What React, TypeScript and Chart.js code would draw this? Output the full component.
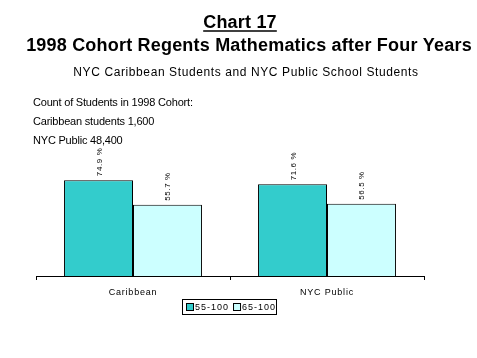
import React, { useEffect, useRef } from "react";
import { Chart, registerables } from "chart.js";

Chart.register(...registerables);

const categories = ["Caribbean", "NYC Public"];
const series55 = [74.9, 71.6];
const series65 = [55.7, 56.5];
const seriesNames = ["55-100", "65-100"];
const titleLines = ["Chart 17", "1998 Cohort Regents Mathematics after Four Years"];
const subtitle = "NYC Caribbean Students and NYC Public School Students";
const notes = ["Count of Students in 1998 Cohort:", "Caribbean students 1,600", "NYC Public 48,400"];
const colors = ["#33CCCC", "#CCFFFF"];

const overlay = {
  id: "overlay",
  afterDraw(chart: any) {
    const ctx = chart.ctx as CanvasRenderingContext2D;
    const area = chart.chartArea;
    const x = chart.scales.x;
    ctx.save();
    ctx.fillStyle = "#000";
    ctx.strokeStyle = "#000";
    // titles
    ctx.textAlign = "center";
    ctx.textBaseline = "alphabetic";
    ctx.font = "bold 18px Arial, 'Liberation Sans', sans-serif";
    (ctx as any).letterSpacing = "0.2px";
    ctx.fillText(titleLines[0], 240, 28);
    const w0 = ctx.measureText(titleLines[0]).width;
    ctx.lineWidth = 1.5;
    ctx.beginPath();
    ctx.moveTo(240 - w0 / 2, 31);
    ctx.lineTo(240 + w0 / 2, 31);
    ctx.stroke();
    ctx.fillText(titleLines[1], 249, 51);
    ctx.font = "12px Arial, 'Liberation Sans', sans-serif";
    (ctx as any).letterSpacing = "0.6px";
    ctx.fillText(subtitle, 246, 76);
    (ctx as any).letterSpacing = "0px";
    // notes
    ctx.textAlign = "left";
    ctx.font = "11px Arial, 'Liberation Sans', sans-serif";
    (ctx as any).letterSpacing = "-0.2px";
    notes.forEach((n, i) => ctx.fillText(n, 33, 106 + i * 19));
    (ctx as any).letterSpacing = "0px";
    // axis
    ctx.lineWidth = 1;
    ctx.beginPath();
    ctx.moveTo(area.left, area.bottom + 0.5);
    ctx.lineTo(area.right, area.bottom + 0.5);
    const n = categories.length;
    for (let i = 0; i <= n; i++) {
      const px = Math.round(area.left + ((area.right - area.left) * i) / n) + 0.5;
      ctx.moveTo(px, area.bottom);
      ctx.lineTo(px, area.bottom + 4);
    }
    ctx.stroke();
    // category labels
    ctx.textAlign = "center";
    ctx.font = "9px Arial, 'Liberation Sans', sans-serif";
    (ctx as any).letterSpacing = "0.8px";
    categories.forEach((c, i) => {
      ctx.fillText(c, x.getPixelForValue(i), area.bottom + 19);
    });
    // bar labels
    chart.data.datasets.forEach((ds: any, di: number) => {
      const meta = chart.getDatasetMeta(di);
      meta.data.forEach((bar: any, i: number) => {
        ctx.save();
        ctx.translate(bar.x + 3, bar.y - 4);
        ctx.rotate(-Math.PI / 2);
        ctx.textAlign = "left";
        ctx.font = "8px Arial, 'Liberation Sans', sans-serif";
        (ctx as any).letterSpacing = "0.6px";
        ctx.fillText(ds.data[i].toFixed(1) + " %", 0, 0);
        ctx.restore();
      });
    });
    // legend
    (ctx as any).letterSpacing = "1px";
    ctx.font = "9px Arial, 'Liberation Sans', sans-serif";
    const lx = 182, ly = 299, lw = 94, lh = 15;
    ctx.strokeRect(lx + 0.5, ly + 0.5, lw, lh);
    ctx.textAlign = "left";
    ctx.textBaseline = "middle";
    let cx = lx + 4;
    seriesNames.forEach((s, i) => {
      ctx.fillStyle = colors[i];
      ctx.fillRect(cx + 0.5, ly + 4.5, 7, 7);
      ctx.strokeRect(cx + 0.5, ly + 4.5, 7, 7);
      ctx.fillStyle = "#000";
      ctx.fillText(s, cx + 9, ly + 8.5);
      cx += 9 + ctx.measureText(s).width + 4;
    });
    ctx.restore();
  },
};

export default function App() {
  const ref = useRef<HTMLCanvasElement>(null);
  useEffect(() => {
    if (!ref.current) return;
    const chart = new Chart(ref.current, {
      type: "bar",
      data: {
        labels: categories,
        datasets: [
          { label: seriesNames[0], data: series55, backgroundColor: colors[0], borderColor: "#000", borderWidth: 1 },
          { label: seriesNames[1], data: series65, backgroundColor: colors[1], borderColor: "#000", borderWidth: 1 },
        ],
      },
      options: {
        animation: false,
        responsive: false,
        maintainAspectRatio: false,
        layout: { padding: { left: 36, right: 53, top: 148, bottom: 82 } },
        datasets: { bar: { categoryPercentage: 0.711, barPercentage: 1 } } as any,
        plugins: { legend: { display: false }, tooltip: { enabled: false } },
        scales: {
          x: { display: false },
          y: { display: false, min: 0, max: 100 },
        },
      },
      plugins: [overlay],
    });
    return () => chart.destroy();
  }, []);
  return (
    <div style={{ position: "fixed", left: 0, top: 0, width: 477, height: 358, background: "#fff" }}>
      <canvas ref={ref} width={477} height={358} style={{ width: 477, height: 358 }} />
    </div>
  );
}
